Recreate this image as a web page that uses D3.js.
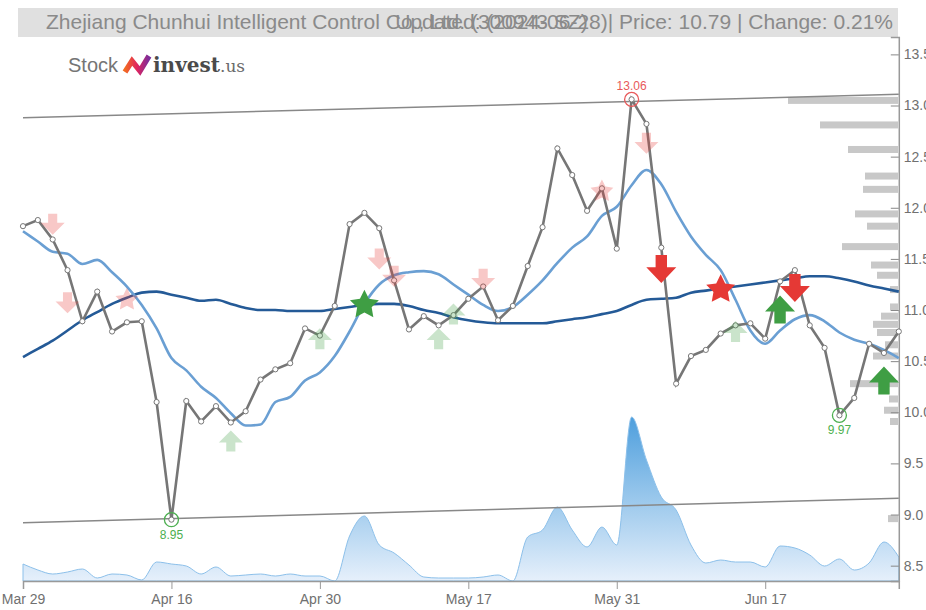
<!DOCTYPE html>
<html><head><meta charset="utf-8">
<script src="https://cdn.jsdelivr.net/npm/d3@7"></script>
<style>body{margin:0;background:#fff;} svg{display:block;font-family:"Liberation Sans",Arial,sans-serif;}</style>
</head><body><svg id="c" width="926" height="610"></svg>
<script>
// ---------- data ----------
const price = [11.82,11.88,11.69,11.39,10.89,11.18,10.79,10.88,10.89,10.10,8.95,10.11,9.91,10.06,9.90,10.01,10.32,10.42,10.48,10.82,10.75,11.04,11.84,11.95,11.80,11.29,10.81,10.94,10.85,10.95,11.11,11.23,10.90,11.04,11.43,11.81,12.58,12.32,11.97,12.19,11.60,13.06,12.82,11.61,10.28,10.55,10.61,10.77,10.85,10.87,10.72,11.28,11.39,10.85,10.63,9.97,10.14,10.67,10.58,10.79];
const maShort = [11.77,11.67,11.57,11.55,11.45,11.49,11.37,11.23,11.05,10.82,10.53,10.41,10.25,10.14,9.99,9.87,9.88,10.10,10.15,10.31,10.39,10.55,10.79,11.06,11.25,11.34,11.37,11.38,11.35,11.25,11.15,11.05,10.99,11.03,11.15,11.29,11.46,11.61,11.72,11.92,12.01,12.22,12.37,12.23,11.96,11.72,11.54,11.39,11.10,10.80,10.67,10.80,10.91,10.95,10.89,10.78,10.71,10.67,10.61,10.53];
const maLong = [10.54,10.62,10.70,10.80,10.90,10.98,11.06,11.12,11.17,11.18,11.15,11.12,11.09,11.10,11.06,11.02,11.00,11.00,10.99,10.99,10.99,11.01,11.03,11.05,11.06,11.06,11.04,11.00,10.97,10.93,10.90,10.88,10.87,10.87,10.87,10.87,10.89,10.91,10.93,10.96,10.99,11.05,11.10,11.11,11.12,11.17,11.19,11.21,11.23,11.25,11.27,11.29,11.31,11.33,11.33,11.31,11.28,11.24,11.21,11.18];
const volume = [17,11,7,9,12,3,7,6,1,19,17,15,7,14,5,6,7,5,7,5,5,0,45,65,36,28,16,4,3,3,3,4,6,0,44,51,74,51,34,54,36,164,121,84,71,36,18,21,19,19,14,35,33,26,15,22,11,18,39,24];
const tickIdx = [0,10,20,30,40,50];
const tickLabels = ["Mar 29","Apr 16","Apr 30","May 17","May 31","Jun 17"];
const priceTicks = [8.5,9,9.5,10,10.5,11,11.5,12,12.5,13,13.5];
const trendIdx = [0,59];
const trendUpper = [12.88,13.11];
const trendLower = [8.92,9.16];
const profilePrice = [13.05,12.81,12.57,12.31,12.18,11.94,11.82,11.62,11.44,11.34,11.20,11.03,10.94,10.86,10.78,10.66,10.55,10.28,10.13,10.02,9.91,8.96];
const profileVol = [110,78,50,33,35,43,31,56,27,21,8,8,17,25,21,13,25,48,9,14,8,10];
// signals: index, value, shape, direction/colour, strong?
const sigIdx   = [2,3,24,25,31,42,7,39,14,20,28,29,48,23,43,47,51,52,58];
const sigVal   = [11.84,11.07,11.50,11.33,11.30,12.63,11.10,12.16,9.72,10.72,10.72,10.96,10.79,11.05,11.40,11.20,11.005,11.215,10.31];
const sigShape = ["arrow","arrow","arrow","arrow","arrow","arrow","star","star","arrow","arrow","arrow","arrow","arrow","star","arrow","star","arrow","arrow","arrow"];
const sigSide  = ["sell","sell","sell","sell","sell","sell","sell","sell","buy","buy","buy","buy","buy","buy","sell","sell","buy","sell","buy"];
const sigStrong= [0,0,0,0,0,0,0,0,0,0,0,0,0,1,1,1,1,1,1];
const extIdx = [41,10,55];
const extKind = ["high","low","low"];
const titleLeft = "Zhejiang Chunhui Intelligent Control Co., Ltd. (300943.SZ)";
const titleRight = "Updated: (2024-06-28)| Price: 10.79 | Change: 0.21%";

// ---------- scales ----------
const svg = d3.select("#c");
const x = d3.scaleLinear().domain([0, price.length-1]).range([23, 898.8]);
const y = d3.scaleLinear().domain([8.35, 13.67]).range([581, 37]);
const yv = d3.scaleLinear().domain([0, 164]).range([581, 417]);
const xp = d3.scaleLinear().domain([0, 110]).range([898, 788]);

const defs = svg.append("defs");
const g1 = defs.append("linearGradient").attr("id","vg").attr("gradientUnits","userSpaceOnUse")
  .attr("x1",0).attr("x2",0).attr("y1",417).attr("y2",581);
g1.append("stop").attr("offset",0).attr("stop-color","#4e9fdd");
g1.append("stop").attr("offset",1).attr("stop-color","#e6f0fb");
const g2 = defs.append("linearGradient").attr("id","lg").attr("x1",0).attr("x2",1).attr("y1",0).attr("y2",0);
g2.append("stop").attr("offset",0).attr("stop-color","#f26a21");
g2.append("stop").attr("offset",0.5).attr("stop-color","#e0245e");
g2.append("stop").attr("offset",1).attr("stop-color","#7b2d9b");

// title bar
svg.append("rect").attr("x",18).attr("y",8).attr("width",880).attr("height",29).attr("fill","#e0e0e0");
svg.append("text").attr("x",46).attr("y",29).attr("font-size",21).attr("fill","#8a8a8a").text(titleLeft);
svg.append("text").attr("x",893).attr("y",29).attr("font-size",21).attr("fill","#8a8a8a").attr("text-anchor","end").text(titleRight);

// logo
const logo = svg.append("g");
logo.append("text").attr("x",68).attr("y",72).attr("font-size",20).attr("fill","#757575").text("Stock");
logo.append("path").attr("d","M125,72 L132,61 L140,71 L149,56").attr("fill","none").attr("stroke","url(#lg)").attr("stroke-width",5.5).attr("stroke-linejoin","miter");
const inv = logo.append("text").attr("x",153).attr("y",72).attr("font-size",20).attr("font-weight","bold").attr("font-family","'DejaVu Serif',serif").attr("fill","#4a4a4a").text("invest");
const invW = inv.node().getComputedTextLength();
logo.append("text").attr("x",153+invW).attr("y",72).attr("font-size",17).attr("font-family","'DejaVu Serif',serif").attr("fill","#6a6a6a").text(".us");

// volume area
const area = d3.area().x((d,i)=>x(i)).y0(581).y1(d=>yv(d)).curve(d3.curveMonotoneX);
svg.append("path").datum(volume).attr("d",area).attr("fill","url(#vg)").attr("stroke","#8cc0ea").attr("stroke-width",1);

// volume profile
svg.append("g").selectAll("rect").data(profilePrice).join("rect")
  .attr("x",(d,i)=>xp(profileVol[i])).attr("width",(d,i)=>898-xp(profileVol[i]))
  .attr("y",d=>y(d)-3.5).attr("height",7).attr("fill","#c8c8c8");

// trend lines
[trendUpper,trendLower].forEach(t=>{
  svg.append("line").attr("x1",x(trendIdx[0])).attr("x2",x(trendIdx[1]))
    .attr("y1",y(t[0])).attr("y2",y(t[1])).attr("stroke","#888").attr("stroke-width",1.5);
});

// axes
const xAxis = d3.axisBottom(x).tickValues(tickIdx).tickFormat((d,i)=>tickLabels[i]).tickSize(8).tickPadding(5);
const gx = svg.append("g").attr("transform","translate(0,581)").call(xAxis);
gx.select(".domain").attr("stroke","#999").attr("stroke-width",1.5);
gx.selectAll(".tick line").attr("stroke","#999");
gx.selectAll("text").attr("font-size",14).attr("fill","#707070").attr("font-family","'Liberation Sans',Arial,sans-serif");

const yAxis = d3.axisRight(y).tickValues(priceTicks).tickFormat(d3.format(".1f")).tickSize(-8).tickPadding(5);
const gy = svg.append("g").attr("transform","translate(898.8,0)").call(yAxis);
gy.select(".domain").attr("stroke","#999").attr("stroke-width",1.5);
gy.selectAll(".tick line").attr("stroke","#888");
gy.selectAll("text").attr("font-size",14).attr("fill","#707070").attr("font-family","'Liberation Sans',Arial,sans-serif");

// MA lines
const ln = arr => d3.line().x((d,i)=>x(i)).y(d=>y(d)).curve(d3.curveMonotoneX)(arr);
svg.append("path").attr("d",ln(maLong)).attr("fill","none").attr("stroke","#245a97").attr("stroke-width",2.6);
svg.append("path").attr("d",ln(maShort)).attr("fill","none").attr("stroke","#6a9fd3").attr("stroke-width",2.6);

// price line
svg.append("path").attr("d",d3.line().x((d,i)=>x(i)).y(d=>y(d))(price)).attr("fill","none").attr("stroke","#767676").attr("stroke-width",2.6);
svg.append("g").selectAll("circle").data(price).join("circle")
  .attr("cx",(d,i)=>x(i)).attr("cy",d=>y(d)).attr("r",2.6).attr("fill","#fff").attr("stroke","#777").attr("stroke-width",1);

// signals
function arrowPath(w,h,up){
  const hh=h*0.57, sw=w*0.38, s = up?1:-1;
  const pts=[[0,-h/2],[w/2,-h/2+hh],[sw/2,-h/2+hh],[sw/2,h/2],[-sw/2,h/2],[-sw/2,-h/2+hh],[-w/2,-h/2+hh]];
  return "M"+pts.map(p=>[p[0],p[1]*s].join(",")).join("L")+"Z";
}
function starPath(R){
  const r=R*0.5, pts=[];
  for(let k=0;k<10;k++){const a=-Math.PI/2+k*Math.PI/5, rr=k%2?r:R; pts.push([rr*Math.cos(a),rr*Math.sin(a)]);}
  return "M"+pts.map(p=>p.join(",")).join("L")+"Z";
}
const sg = svg.append("g");
sigIdx.forEach((idx,k)=>{
  const strong = sigStrong[k]===1, buy = sigSide[k]==="buy";
  const col = buy ? "#3f9e44" : "#e53935";
  const d = sigShape[k]==="star" ? starPath(strong?15.2:12) : arrowPath(strong?30:24, strong?28:21, buy);
  sg.append("path").attr("d",d).attr("transform",`translate(${x(idx)},${y(sigVal[k])})`)
    .attr("fill",col).attr("opacity",strong?1:0.28);
});

// extremes
extIdx.forEach((idx,k)=>{
  const hi = extKind[k]==="high", col = hi ? "#e8595a" : "#4caf50";
  svg.append("circle").attr("cx",x(idx)).attr("cy",y(price[idx])).attr("r",7).attr("fill","none").attr("stroke",col).attr("stroke-width",1.3);
  svg.append("text").attr("x",x(idx)).attr("y",hi? y(price[idx])-9 : y(price[idx])+19).attr("text-anchor","middle")
    .attr("font-size",12).attr("fill",col).text(price[idx].toFixed(2));
});
</script></body></html>
